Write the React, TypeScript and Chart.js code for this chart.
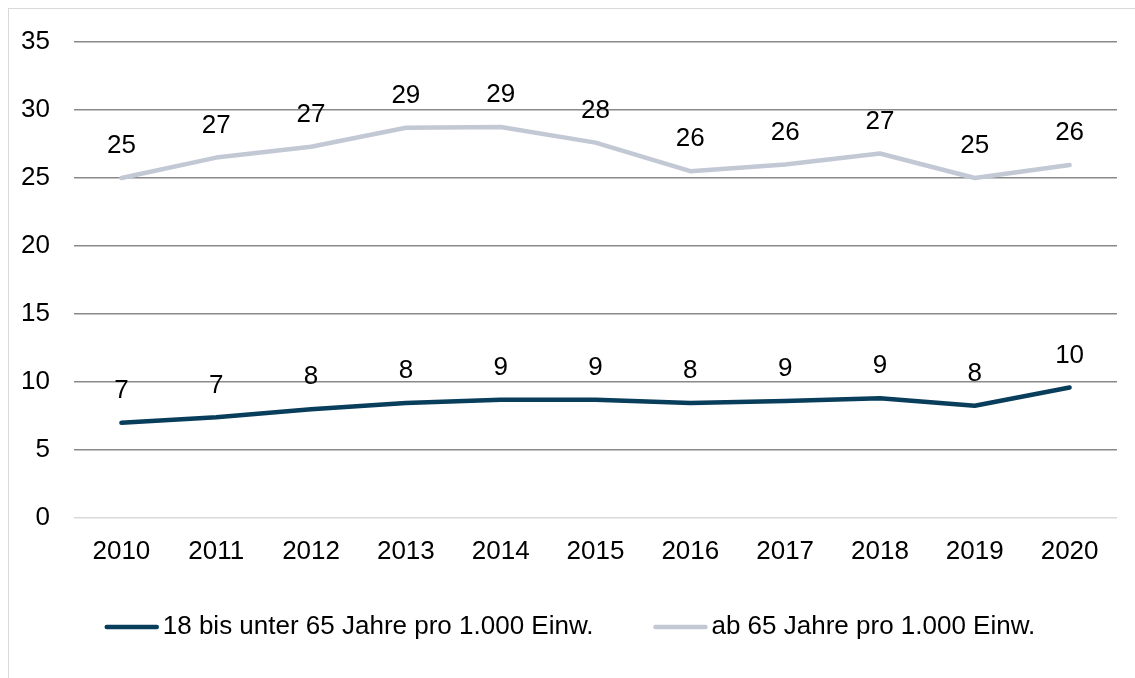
import React, { useEffect, useRef } from "react";
import { Chart, registerables } from "chart.js";

Chart.register(...registerables);

const years = ["2010", "2011", "2012", "2013", "2014", "2015", "2016", "2017", "2018", "2019", "2020"];
const working = [7.0, 7.4, 8.0, 8.45, 8.7, 8.7, 8.45, 8.6, 8.8, 8.25, 9.6];
const seniors = [25.0, 26.5, 27.3, 28.7, 28.75, 27.6, 25.5, 26.0, 26.8, 25.0, 25.95];
const workingLabel = "18 bis unter 65 Jahre pro 1.000 Einw.";
const seniorsLabel = "ab 65 Jahre pro 1.000 Einw.";
const yTicks = [0, 5, 10, 15, 20, 25, 30, 35];

const FONT = "'Liberation Sans', Arial, sans-serif";
const FS = 26;

const labelPlugin = {
  id: "valueLabels",
  afterDatasetsDraw(chart: any) {
    const ctx = chart.ctx;
    ctx.save();
    ctx.font = `${FS}px ${FONT}`;
    ctx.fillStyle = "#000";
    ctx.textAlign = "center";
    ctx.textBaseline = "middle";
    chart.data.datasets.forEach((ds: any, i: number) => {
      const meta = chart.getDatasetMeta(i);
      meta.data.forEach((pt: any, j: number) => {
        ctx.fillText(String(Math.round(ds.data[j])), pt.x, pt.y - 32);
      });
    });
    ctx.restore();
  },
};

const legendPlugin = {
  id: "customLegend",
  afterDraw(chart: any) {
    const ctx = chart.ctx;
    ctx.save();
    ctx.font = `${FS}px ${FONT}`;
    ctx.textBaseline = "middle";
    ctx.textAlign = "left";
    const lineW = 54;
    const gap = 4;
    const itemGap = 60;
    const items = chart.data.datasets.map((ds: any) => ({
      label: ds.label,
      color: ds.borderColor,
      w: lineW + gap + ctx.measureText(ds.label).width,
    }));
    const total = items.reduce((s: number, it: any) => s + it.w, 0) + itemGap * (items.length - 1);
    let x = chart.width / 2 - total / 2 - 2;
    const y = 618;
    items.forEach((it: any) => {
      ctx.strokeStyle = it.color;
      ctx.lineWidth = 4.5;
      ctx.lineCap = "round";
      ctx.beginPath();
      ctx.moveTo(x + 2, y);
      ctx.lineTo(x + lineW - 2, y);
      ctx.stroke();
      ctx.fillStyle = "#000";
      ctx.fillText(it.label, x + lineW + gap, y);
      x += it.w + itemGap;
    });
    ctx.restore();
  },
};

export default function App() {
  const ref = useRef<HTMLCanvasElement | null>(null);

  useEffect(() => {
    if (!ref.current) return;
    const chart = new Chart(ref.current, {
      type: "line",
      data: {
        labels: years,
        datasets: [
          {
            label: workingLabel,
            data: working,
            borderColor: "#083d5b",
            backgroundColor: "#083d5b",
            borderWidth: 4.5,
            pointRadius: 0,
            tension: 0,
            borderCapStyle: "round",
            borderJoinStyle: "round",
          },
          {
            label: seniorsLabel,
            data: seniors,
            borderColor: "#c3c8d5",
            backgroundColor: "#c3c8d5",
            borderWidth: 4.5,
            pointRadius: 0,
            tension: 0,
            borderCapStyle: "round",
            borderJoinStyle: "round",
          },
        ],
      },
      options: {
        animation: false,
        responsive: false,
        maintainAspectRatio: false,
        layout: { padding: { top: 33, right: 18, left: 0, bottom: 0 } },
        plugins: {
          legend: { display: false },
          tooltip: { enabled: false },
        },
        scales: {
          x: {
            type: "category",
            offset: true,
            grid: { display: false, drawTicks: false },
            border: { display: false },
            ticks: {
              color: "#000",
              font: { family: FONT, size: FS },
              padding: 18,
              maxRotation: 0,
            },
            afterFit(scale: any) {
              scale.height = 160;
              scale.paddingLeft = 0;
              scale.paddingRight = 0;
            },
          },
          y: {
            min: 0,
            max: 35,
            afterBuildTicks(scale: any) {
              scale.ticks = yTicks.map((v) => ({ value: v }));
            },
            grid: {
              drawTicks: false,
              tickLength: 0,
              lineWidth: 1.5,
              color: (c: any) => (c.tick && c.tick.value === 0 ? "#d9d9d9" : "#898989"),
            },
            border: { display: false },
            ticks: {
              color: "#000",
              font: { family: FONT, size: FS },
              padding: 24,
            },
            afterFit(scale: any) {
              scale.width = 65;
              scale.paddingTop = 0;
              scale.paddingBottom = 0;
            },
          },
        },
      },
      plugins: [labelPlugin, legendPlugin],
    });
    return () => chart.destroy();
  }, []);

  return (
    <div
      style={{
        position: "fixed",
        left: 8,
        top: 8,
        width: 1127,
        height: 670,
        borderTop: "1px solid #d9d9d9",
        borderLeft: "1px solid #d9d9d9",
        background: "#fff",
        boxSizing: "border-box",
      }}
    >
      <canvas ref={ref} width={1126} height={669} style={{ display: "block" }} />
    </div>
  );
}
